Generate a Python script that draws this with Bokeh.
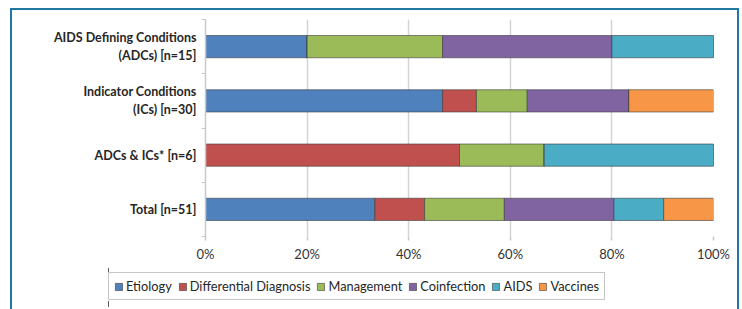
from bokeh.plotting import figure
from bokeh.layouts import column
from bokeh.models import (ColumnDataSource, Range1d, FixedTicker, NumeralTickFormatter,
                          Legend, LegendItem)
from bokeh.embed import file_html
from bokeh.resources import INLINE

# ---- data (counts; shown as 100% stacked) ----
categories = ["AIDS Defining Conditions\n(ADCs) [n=15]",
              "Indicator Conditions\n(ICs) [n=30]",
              "ADCs & ICs* [n=6]",
              "Total [n=51]"]
series = ["Etiology", "Differential Diagnosis", "Management", "Coinfection", "AIDS", "Vaccines"]
etiology     = [3, 14, 0, 17]
differential = [0, 2, 3, 5]
management   = [4, 3, 1, 8]
coinfection  = [5, 6, 0, 11]
aids         = [3, 0, 2, 5]
vaccines     = [0, 5, 0, 5]
colors = ["#4F81BD", "#C0504D", "#9BBB59", "#8064A2", "#4BACC6", "#F79646"]
x_ticks = [0, 0.2, 0.4, 0.6, 0.8, 1.0]

counts = [etiology, differential, management, coinfection, aids, vaccines]
totals = [sum(c[i] for c in counts) for i in range(len(categories))]
n = len(categories)
ypos = [n - i - 0.5 for i in range(n)]
data = {"y": ypos}
for name, vals in zip(series, counts):
    data[name] = [v / t for v, t in zip(vals, totals)]
source = ColumnDataSource(data)

FONT = "Lato"
W = 725
BORDER = "2px solid #1F78A0"
BAR_LINE = dict(line_color="#3A3A3A", line_width=0.8, line_alpha=0.75)

# ---- main chart ----
p = figure(width=W, height=255, output_backend="svg", toolbar_location=None,
           x_range=Range1d(0, 1), y_range=Range1d(0, n),
           min_border_left=193, min_border_right=24, min_border_top=9, min_border_bottom=29,
           tools="")
p.frame_width = 508
p.frame_height = 217
p.outline_line_color = None
p.background_fill_color = "white"
p.border_fill_color = "white"

p.hbar_stack(series, y="y", height=0.41, color=colors, source=source, **BAR_LINE)

xa = p.xaxis[0]
xa.ticker = FixedTicker(ticks=x_ticks, minor_ticks=[])
xa.formatter = NumeralTickFormatter(format="0%")
xa.axis_line_color = None
xa.major_tick_line_color = "#C8C8C8"
xa.major_tick_line_width = 1.5
xa.major_tick_out = 4
xa.major_tick_in = 0
xa.minor_tick_line_color = None
xa.major_label_text_font = FONT
xa.major_label_text_font_size = "13px"
xa.major_label_text_color = "#333333"
xa.major_label_standoff = 5

ya = p.yaxis[0]
ya.ticker = FixedTicker(ticks=ypos, minor_ticks=list(range(n + 1)))
ya.major_label_overrides = {y: c for y, c in zip(ypos, categories)}
ya.major_tick_line_color = None
ya.major_tick_out = 0
ya.major_tick_in = 0
ya.minor_tick_line_color = "#C8C8C8"
ya.minor_tick_out = 4
ya.minor_tick_in = 0
ya.axis_line_color = "#C8C8C8"
ya.axis_line_width = 1.5
ya.major_label_text_font = FONT
ya.major_label_text_font_style = "bold"
ya.major_label_text_font_size = "12.5px"
ya.major_label_text_color = "#262626"
ya.major_label_standoff = 5
ya.major_label_text_align = "right"

p.xgrid.ticker = FixedTicker(ticks=x_ticks)
p.xgrid.grid_line_color = "#D4D4D4"
p.xgrid.grid_line_width = 1.5
p.ygrid.grid_line_color = None

# ---- legend strip (same series; its bars lie outside this strip's view) ----
q = figure(width=W + 97, height=44, output_backend="svg", toolbar_location=None, tools="",
           x_range=Range1d(2, 3), y_range=Range1d(0, n),
           x_axis_location=None, y_axis_location=None,
           min_border_left=193, min_border_right=0, min_border_top=0, min_border_bottom=0)
q.outline_line_color = None
q.xgrid.visible = False
q.ygrid.visible = False
q.background_fill_alpha = 0
q.border_fill_alpha = 0
q.styles = {"margin-left": "-97px"}
rs = q.hbar_stack(series, y="y", height=0.41, color=colors, source=source, **BAR_LINE)
items = [LegendItem(label=name, renderers=[r]) for name, r in zip(series, rs)]
lg = Legend(items=items, orientation="horizontal", location=(0, 9))
lg.label_text_font = FONT
lg.label_text_font_size = "12.8px"
lg.label_text_color = "#262626"
lg.border_line_color = "#8C8C8C"
lg.border_line_width = 1
lg.background_fill_color = "white"
lg.background_fill_alpha = 1
lg.padding = 5
lg.spacing = 6
lg.margin = 0
lg.glyph_width = 9
lg.glyph_height = 9
lg.label_height = 15
lg.label_standoff = 3
q.add_layout(lg)

layout = column(p, q, spacing=0, width=W + 4)
layout.styles = {"margin-left": "10px", "margin-top": "8px",
                 "border-left": BORDER, "border-top": BORDER, "border-right": BORDER}

open("out.html", "w").write(file_html(layout, INLINE))
